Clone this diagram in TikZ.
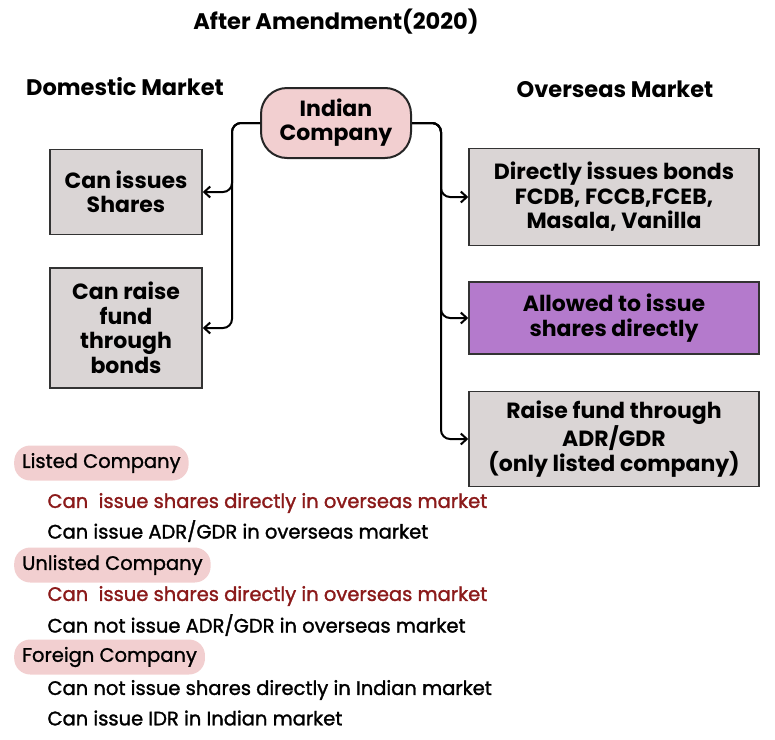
\documentclass[tikz,border=0pt]{standalone}
\usepackage{fontspec}
\setmainfont{Poppins}
\usepackage{xcolor}
\usetikzlibrary{arrows.meta}
\definecolor{boxgrey}{HTML}{DAD5D5}
\definecolor{pillpink}{HTML}{F2CFD0}
\definecolor{boxpurple}{HTML}{B47ACC}
\definecolor{darkred}{HTML}{8B1A1A}

\begin{document}
\begin{tikzpicture}[x=1pt,y=-1pt,
    market/.style={draw=black!80, line width=1.5pt, fill=boxgrey, align=center, font=\bfseries\fontsize{22}{24.5}\selectfont, inner sep=0pt},
    pill/.style={fill=pillpink, rounded corners=16pt, font=\fontsize{19.5}{22}\selectfont\addfontfeature{FakeBold=1.2}, anchor=west, inner xsep=8pt, minimum height=35pt},
    line/.style={font=\fontsize{19.5}{22}\selectfont\addfontfeature{FakeBold=1.5}, anchor=west},
    conn/.style={-{Straight Barb[length=6pt,width=11pt]}, line width=2pt, rounded corners=9pt}]
    \useasboundingbox (0,0) rectangle (775,739);

    % Headings
    \node[font=\bfseries\fontsize{22.5}{24}\selectfont] (title) at (336,22) {After Amendment(2020)};
    \node[font=\bfseries\fontsize{22.5}{24}\selectfont] (dom) at (125,87) {Domestic Market};
    \node[font=\bfseries\fontsize{22.5}{24}\selectfont] (ovs) at (615,89) {Overseas Market};

    % Centre node
    \node[draw=black!85, line width=2pt, fill=pillpink, rounded corners=26pt, minimum width=150pt, minimum height=70pt, align=center, font=\bfseries\fontsize{22}{24}\selectfont] (ic) at (336,123) {Indian\\Company};

    % Domestic side
    \node[market, minimum width=152pt, minimum height=85pt] (shares) at (126,192) {Can issues\\Shares};
    \node[market, minimum width=152pt, minimum height=120pt] (bonds) at (126,328) {Can raise\\fund\\through\\bonds};

    % Overseas side
    \node[market, minimum width=290pt, minimum height=97pt] (direct) at (614,197) {Directly issues bonds\\FCDB, FCCB,FCEB,\\Masala, Vanilla};
    \node[market, fill=boxpurple, minimum width=290pt, minimum height=72pt] (allowed) at (614,318) {Allowed to issue\\shares directly};
    \node[market, minimum width=290pt, minimum height=95pt] (adr) at (614,439) {Raise fund through\\ADR/GDR\\(only listed company)};

    % Connectors
    \coordinate (trunkL) at (232,123);
    \coordinate (trunkR) at (441,123);
    \draw[conn] (ic.west) -- (trunkL) |- (shares.east);
    \draw[conn] (ic.west) -- (trunkL) |- (bonds.east);
    \draw[conn] (ic.east) -- (trunkR) |- (direct.west);
    \draw[conn] (ic.east) -- (trunkR) |- (allowed.west);
    \draw[conn] (ic.east) -- (trunkR) |- (adr.west);

    % Notes
    \node[pill] (listed) at (14,463) {Listed Company};
    \node[line, text=darkred] (l1) at (44,503) {Can\ \ issue shares directly in overseas market};
    \node[line] (l2) at (44,531) {Can issue ADR/GDR in overseas market};
    \node[pill] (unlisted) at (14,565) {Unlisted Company};
    \node[line, text=darkred] (u1) at (44,596) {Can\ \ issue shares directly in overseas market};
    \node[line] (u2) at (44,625) {Can not issue ADR/GDR in overseas market};
    \node[pill] (foreign) at (14,657) {Foreign Company};
    \node[line] (f1) at (44,690) {Can not issue shares directly in Indian market};
    \node[line] (f2) at (44,718) {Can issue IDR in Indian market};
\end{tikzpicture}
\end{document}
